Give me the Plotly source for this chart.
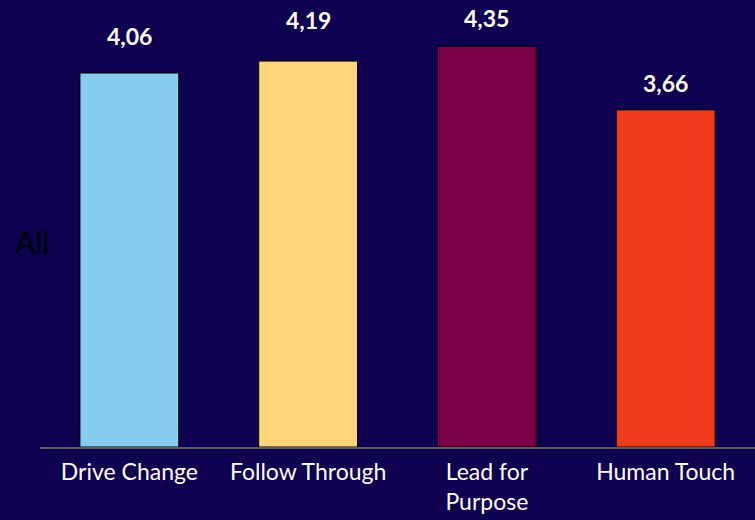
import plotly.graph_objects as go

categories = ["Drive Change", "Follow Through", "Lead for<br>Purpose", "Human Touch"]
values = [4.06, 4.19, 4.35, 3.66]
value_labels = ["4,06", "4,19", "4,35", "3,66"]
bar_colors = ["#86CCEF", "#FDD57B", "#7A0046", "#F03B1F"]
label_offsets = [37, 41, 28, 27]  # px above bar top (style)

BG = "#0F0050"

fig = go.Figure()
fig.add_trace(go.Bar(
    x=categories, y=values,
    marker=dict(color=bar_colors, line=dict(color="#000000", width=1)),
    width=0.553,
    hoverinfo="skip",
))

for c, v, t, o in zip(categories, values, value_labels, label_offsets):
    fig.add_annotation(
        x=c, y=v, xref="x", yref="y", text=t, showarrow=False,
        yshift=o, yanchor="middle",
        font=dict(family="Lato", size=23, color="white", weight="bold"),
    )

fig.add_annotation(
    x=-0.0112, y=0.455, xref="paper", yref="paper", text="All", showarrow=False,
    xanchor="center", yanchor="middle",
    font=dict(family="Liberation Sans", size=31, color="black"),
)

fig.update_layout(
    width=755, height=520,
    paper_bgcolor=BG, plot_bgcolor=BG,
    margin=dict(l=40, r=0, t=0, b=73),
    showlegend=False,
    bargap=0.447,
    xaxis=dict(
        showline=True, linecolor="#5A5A5A", linewidth=2,
        tickfont=dict(family="Lato", size=23, color="white"),
        ticks="", showgrid=False, zeroline=False,
        ticklabelstandoff=3,
    ),
    yaxis=dict(
        range=[0, 4.853], visible=False, showgrid=False, zeroline=False,
    ),
)

fig.write_html("out.html")
